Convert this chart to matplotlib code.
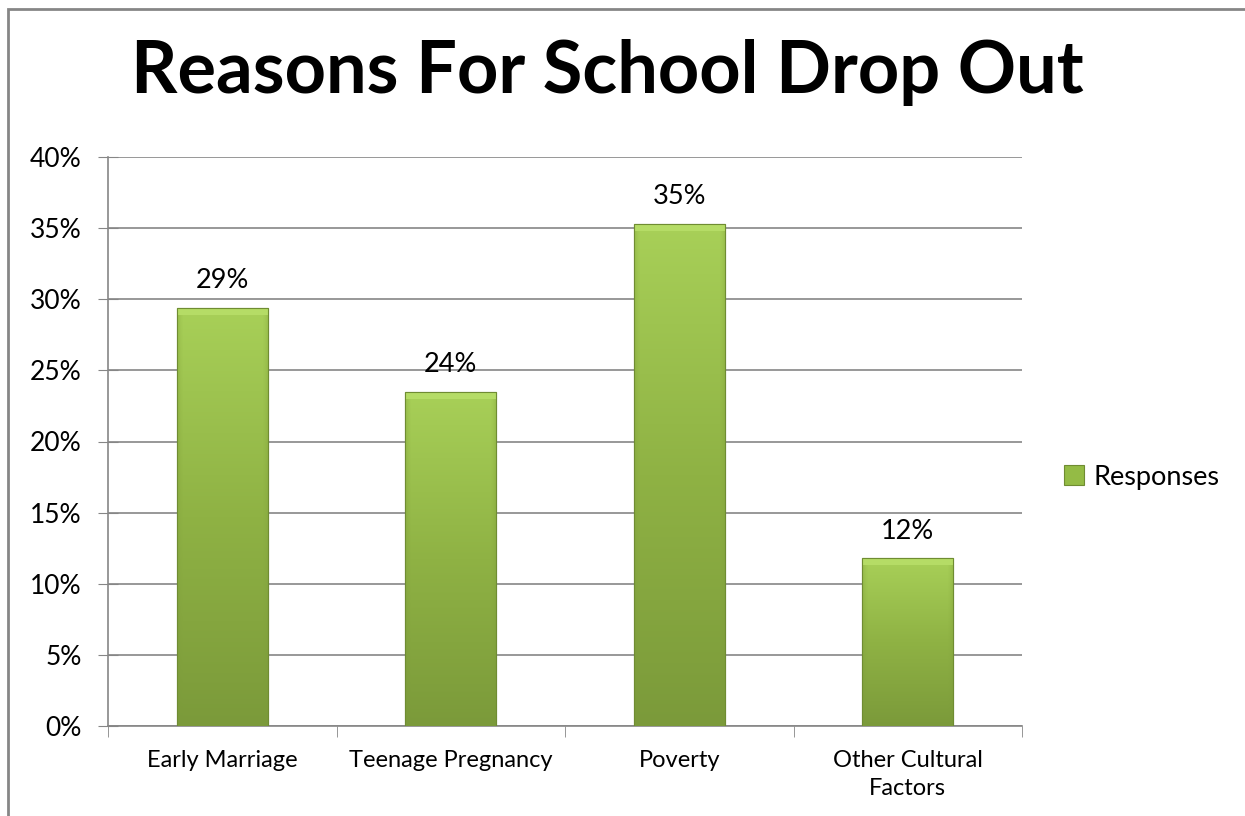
import matplotlib
matplotlib.use("Agg")
import matplotlib.pyplot as plt
import numpy as np
from matplotlib.colors import LinearSegmentedColormap
from matplotlib.patches import Rectangle
from matplotlib.ticker import FuncFormatter

categories = ["Early Marriage", "Teenage Pregnancy", "Poverty", "Other Cultural\nFactors"]
responses = [29.4, 23.5, 35.3, 11.8]
value_labels = ["29%", "24%", "35%", "12%"]
y_ticks = [0, 5, 10, 15, 20, 25, 30, 35, 40]

plt.rcParams["font.family"] = ["Lato", "DejaVu Sans"]

W, H = 1245, 816
fig = plt.figure(figsize=(W / 100, H / 100), dpi=100)
ax = fig.add_axes([108 / W, 1 - 726 / H, (1022 - 108) / W, (726 - 157) / H])

# outer chart border (only left/top visible, rest runs off the image)
fig.patches.append(Rectangle((8 / W, -0.1), 1.2, 1 - 9 / H + 0.1, transform=fig.transFigure,
                             fill=False, edgecolor="#868686", linewidth=2))

x = np.arange(len(categories))
bars = ax.bar(x, responses, width=0.4, color="#9bc24b", edgecolor="#6f8c32",
              linewidth=0.8, zorder=3, label="Responses")

# vertical gradient with darker bevel on the sides
grad = LinearSegmentedColormap.from_list("g", ["#7b9a3a", "#8fb244", "#a8d058"])
for bar in bars:
    x0, y0 = bar.get_x(), bar.get_y()
    w, h = bar.get_width(), bar.get_height()
    vert = np.linspace(0, 1, 256)[:, None]
    horiz = np.linspace(0, 1, 64)[None, :]
    edge = np.clip(np.minimum(horiz, 1 - horiz) / 0.06, 0, 1)
    img = vert * (0.75 + 0.25 * edge)
    im = ax.imshow(img, cmap=grad, origin="lower", aspect="auto",
                   extent=(x0, x0 + w, y0, y0 + h), zorder=3.5, vmin=0, vmax=1)
    im.set_clip_path(bar)
    # light top bevel
    ax.add_patch(Rectangle((x0, y0 + h - 0.5), w, 0.5, facecolor="#b5dc66",
                           edgecolor="none", zorder=3.6))
    ax.add_patch(Rectangle((x0, y0), w, h, fill=False, edgecolor="#6f8c32",
                           linewidth=0.8, zorder=3.7))

for xi, v, lab in zip(x, responses, value_labels):
    ax.text(xi, v + 1.9, lab, ha="center", va="center", fontsize=19.5, color="#000000")

ax.set_xlim(-0.5, len(categories) - 0.5)
ax.set_ylim(0, 40)
ax.set_yticks(y_ticks)
ax.yaxis.set_major_formatter(FuncFormatter(lambda v, p: f"{v:.0f}%"))
ax.set_xticks(x)
ax.set_xticklabels(categories, fontsize=17, linespacing=1.45)
ax.set_xticks(np.arange(len(categories) + 1) - 0.5, minor=True)
ax.tick_params(axis="x", which="major", length=0, pad=17)
ax.tick_params(axis="x", which="minor", length=8, color="#868686", direction="out")
ax.grid(axis="y", color="#868686", linewidth=1.2, zorder=0)
for side in ["top", "right"]:
    ax.spines[side].set_visible(False)
for side in ["left", "bottom"]:
    ax.spines[side].set_color("#868686")
    ax.spines[side].set_linewidth(1.2)
# ticks on y cross the axis line in the reference
ax.tick_params(axis="y", labelsize=19, color="#868686", direction="inout", length=14, pad=12)

fig.text(607 / W, 1 - 73 / H, "Reasons For School Drop Out", ha="center", va="center",
         fontsize=52, fontweight="bold")

leg = fig.legend(handles=[bars], labels=["Responses"], loc="center left",
                 bbox_to_anchor=(1064 / W, 1 - 477 / H), frameon=False, fontsize=19.5,
                 handlelength=0.75, handleheight=0.75, handletextpad=0.35,
                 borderpad=0, borderaxespad=0)
leg.legend_handles[0].set_facecolor("#94bb45")

fig.savefig("out.png", dpi=100)
